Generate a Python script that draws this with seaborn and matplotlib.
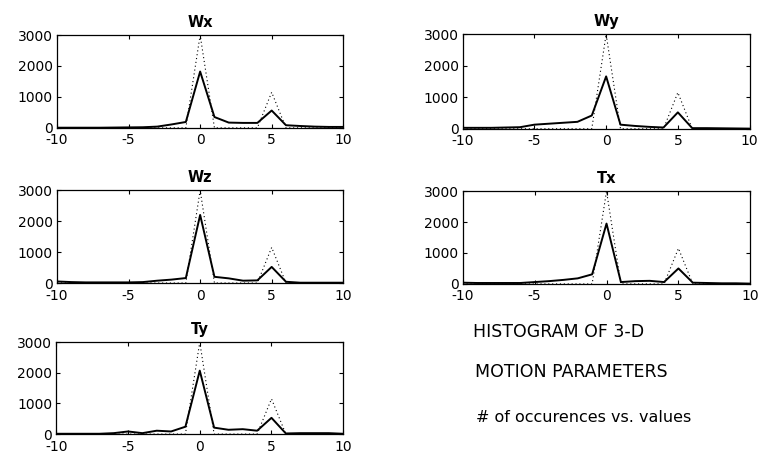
import pandas as pd
import seaborn as sns
import matplotlib.pyplot as plt
import numpy as np

# values on the x axis (bin centres)
bins = list(range(-10, 11))

# solid curves: measured counts per parameter
wx = [5, 5, 5, 5, 10, 15, 20, 40, 110, 190, 1820, 350, 170, 160, 160, 560, 85, 60, 40, 30, 30]
wy = [30, 30, 30, 40, 50, 130, 160, 190, 220, 420, 1660, 130, 90, 60, 40, 520, 20, 20, 15, 10, 5]
wz = [50, 30, 20, 20, 20, 20, 30, 75, 110, 160, 2200, 200, 150, 75, 85, 520, 40, 10, 10, 10, 10]
tx = [40, 30, 30, 30, 30, 60, 90, 130, 180, 310, 1950, 60, 90, 100, 60, 500, 40, 30, 20, 20, 10]
ty = [10, 10, 10, 10, 30, 85, 30, 110, 85, 240, 2070, 210, 140, 160, 110, 530, 20, 30, 30, 30, 10]

# dotted curve: reference distribution (same in every panel)
ref = [0, 0, 0, 0, 0, 0, 0, 0, 0, 0, 3000, 0, 0, 0, 0, 1150, 0, 0, 0, 0, 0]

titles = ["Wx", "Wy", "Wz", "Tx", "Ty"]
series = [wx, wy, wz, tx, ty]

sns.set_theme(style="ticks")
plt.rcParams['font.family'] = ['DejaVu Sans']
plt.rcParams['axes.unicode_minus'] = False
plt.rcParams['xtick.direction'] = 'in'
plt.rcParams['ytick.direction'] = 'in'
plt.rcParams['text.color'] = 'black'
plt.rcParams['xtick.color'] = 'black'
plt.rcParams['ytick.color'] = 'black'
plt.rcParams['xtick.labelcolor'] = 'black'
plt.rcParams['ytick.labelcolor'] = 'black'

fig = plt.figure(figsize=(7.61, 4.55), dpi=100)

# axes rectangles [left, bottom, width, height]
boxes = [
    [0.075, 0.719, 0.376, 0.204],
    [0.608, 0.717, 0.377, 0.208],
    [0.075, 0.378, 0.376, 0.204],
    [0.608, 0.376, 0.378, 0.204],
    [0.074, 0.046, 0.377, 0.202],
]

for title, vals, box in zip(titles, series, boxes):
    ax = fig.add_axes(box)
    df = pd.DataFrame({'value': bins, 'count': vals, 'ref': ref})
    sns.lineplot(data=df, x='value', y='ref', ax=ax, color='black',
                 linestyle=(0, (1, 2.5)), linewidth=0.8)
    sns.lineplot(data=df, x='value', y='count', ax=ax, color='black',
                 linewidth=1.4)
    ax.set_xlim(-10, 10)
    ax.set_ylim(0, 3000)
    ax.set_xticks([-10, -5, 0, 5, 10])
    ax.set_yticks([0, 1000, 2000, 3000])
    ax.set_xlabel('')
    ax.set_ylabel('')
    ax.set_title(title, fontsize=10.5, fontweight='semibold', color='black', pad=6)
    ax.tick_params(labelsize=10, length=3, width=0.8, top=True, right=True)
    ax.tick_params(axis='x', pad=4)
    ax.tick_params(axis='y', pad=3)
    for sp in ax.spines.values():
        sp.set_linewidth(0.9)
        sp.set_color('black')

fig.text(473 / 761, 1 - 332 / 455, "HISTOGRAM OF 3-D", fontsize=12.5, va='center')
fig.text(475 / 761, 1 - 372 / 455, "MOTION PARAMETERS", fontsize=12.5, va='center')
fig.text(476 / 761, 1 - 418 / 455, "# of occurences vs. values", fontsize=11.5, va='center')

fig.savefig('out.png', dpi=100)
